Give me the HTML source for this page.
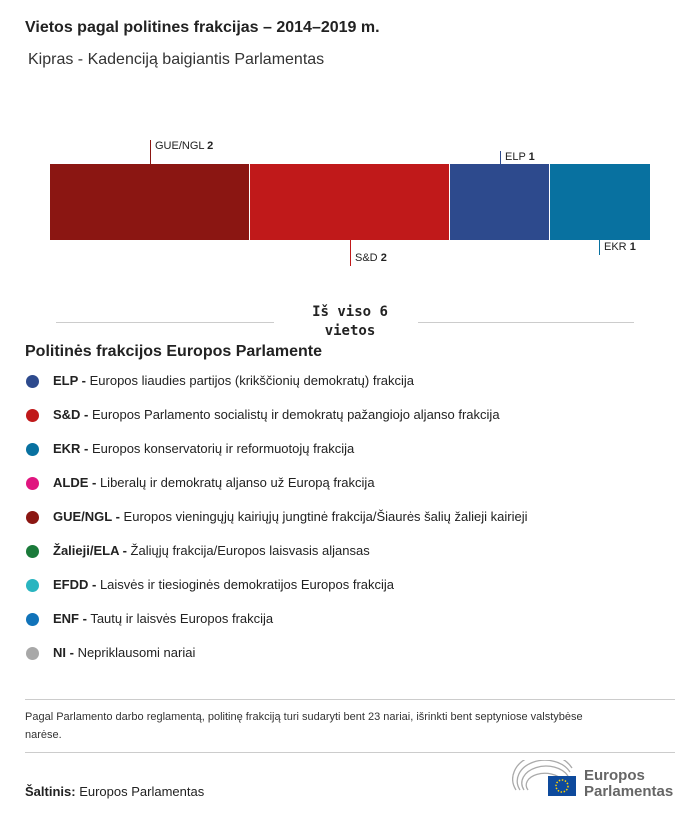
<!DOCTYPE html>
<html><head><meta charset="utf-8"><style>
body{margin:0;width:700px;height:818px;background:#fff;position:relative;font-family:"Liberation Sans",sans-serif;color:#222;overflow:hidden}
.a{position:absolute;white-space:nowrap}
.dot{position:absolute;left:26px;width:13px;height:13px;border-radius:50%}
.li{position:absolute;left:53px;font-size:13px}
.li b{font-weight:bold}
</style></head><body>
<div class="a" style="left:25px;top:19px;font-size:16px;font-weight:bold">Vietos pagal politines frakcijas – 2014–2019 m.</div>
<div class="a" style="left:28px;top:51px;font-size:16px;color:#333">Kipras - Kadenciją baigiantis Parlamentas</div>

<div class="a" style="left:50px;top:164px;width:199px;height:76px;background:#8b1612"></div>
<div class="a" style="left:250px;top:164px;width:199px;height:76px;background:#c0191a"></div>
<div class="a" style="left:450px;top:164px;width:99px;height:76px;background:#2d4a8d"></div>
<div class="a" style="left:550px;top:164px;width:100px;height:76px;background:#0871a0"></div>

<div class="a" style="left:150px;top:140px;width:1px;height:24px;background:#8b1612"></div>
<div class="a" style="left:155px;top:140px;font-size:11px">GUE/NGL <b>2</b></div>
<div class="a" style="left:500px;top:151px;width:1px;height:13px;background:#2d4a8d"></div>
<div class="a" style="left:505px;top:151px;font-size:11px">ELP <b>1</b></div>
<div class="a" style="left:350px;top:240px;width:1px;height:26px;background:#c0191a"></div>
<div class="a" style="left:355px;top:252px;font-size:11px">S&amp;D <b>2</b></div>
<div class="a" style="left:599px;top:240px;width:1px;height:15px;background:#0871a0"></div>
<div class="a" style="left:604px;top:241px;font-size:11px">EKR <b>1</b></div>

<div class="a" style="left:56px;top:322px;width:218px;height:1px;background:#ccc"></div>
<div class="a" style="left:418px;top:322px;width:216px;height:1px;background:#ccc"></div>
<div class="a" style="left:280px;top:303px;width:140px;text-align:center;font-family:'DejaVu Sans Mono','Liberation Mono',monospace;font-weight:bold;font-size:14px;line-height:19px;white-space:normal">Iš viso 6<br>vietos</div>

<div class="a" style="left:25px;top:343px;font-size:16px;font-weight:bold">Politinės frakcijos Europos Parlamente</div>

<div class="dot" style="top:375px;background:#2d4a8d"></div><div class="li" style="top:373px"><b>ELP -</b> Europos liaudies partijos (krikščionių demokratų) frakcija</div>
<div class="dot" style="top:409px;background:#c0191a"></div><div class="li" style="top:407px"><b>S&amp;D -</b> Europos Parlamento socialistų ir demokratų pažangiojo aljanso frakcija</div>
<div class="dot" style="top:443px;background:#0871a0"></div><div class="li" style="top:441px"><b>EKR -</b> Europos konservatorių ir reformuotojų frakcija</div>
<div class="dot" style="top:477px;background:#e0157f"></div><div class="li" style="top:475px"><b>ALDE -</b> Liberalų ir demokratų aljanso už Europą frakcija</div>
<div class="dot" style="top:511px;background:#8b1612"></div><div class="li" style="top:509px"><b>GUE/NGL -</b> Europos vieningųjų kairiųjų jungtinė frakcija/Šiaurės šalių žalieji kairieji</div>
<div class="dot" style="top:545px;background:#1a7a3a"></div><div class="li" style="top:543px"><b>Žalieji/ELA -</b> Žaliųjų frakcija/Europos laisvasis aljansas</div>
<div class="dot" style="top:579px;background:#2ab5c0"></div><div class="li" style="top:577px"><b>EFDD -</b> Laisvės ir tiesioginės demokratijos Europos frakcija</div>
<div class="dot" style="top:613px;background:#1173b9"></div><div class="li" style="top:611px"><b>ENF -</b> Tautų ir laisvės Europos frakcija</div>
<div class="dot" style="top:647px;background:#a8a8a8"></div><div class="li" style="top:645px"><b>NI -</b> Nepriklausomi nariai</div>

<div class="a" style="left:25px;top:699px;width:650px;height:1px;background:#ccc"></div>
<div class="a" style="left:25px;top:708px;width:590px;font-size:11px;line-height:18px;white-space:normal;color:#333">Pagal Parlamento darbo reglamentą, politinę frakciją turi sudaryti bent 23 nariai, išrinkti bent septyniose valstybėse narėse.</div>
<div class="a" style="left:25px;top:752px;width:650px;height:1px;background:#ccc"></div>
<div class="a" style="left:25px;top:784px;font-size:13px"><b>Šaltinis:</b> Europos Parlamentas</div>

<svg class="a" style="left:512px;top:760px" width="70" height="40" viewBox="0 0 70 40">
<g fill="none" stroke="#aaa" stroke-width="1.3">
<path d="M4 30 A28 22 0 0 1 60 8"/><path d="M8 30 A24 18 0 0 1 58 12"/><path d="M12 30 A20 14 0 0 1 56 16"/><path d="M16 30 A16 10 0 0 1 50 20"/></g>
<rect x="36" y="16" width="28" height="20" fill="#0e4a9c"/>
<circle cx="50" cy="26" r="6" fill="none" stroke="#ffd200" stroke-width="1.5" stroke-dasharray="1.5 1.6"/>
</svg>
<div class="a" style="left:584px;top:768px;font-size:15px;font-weight:bold;color:#666;line-height:16px">Europos<br>Parlamentas</div>
</body></html>
